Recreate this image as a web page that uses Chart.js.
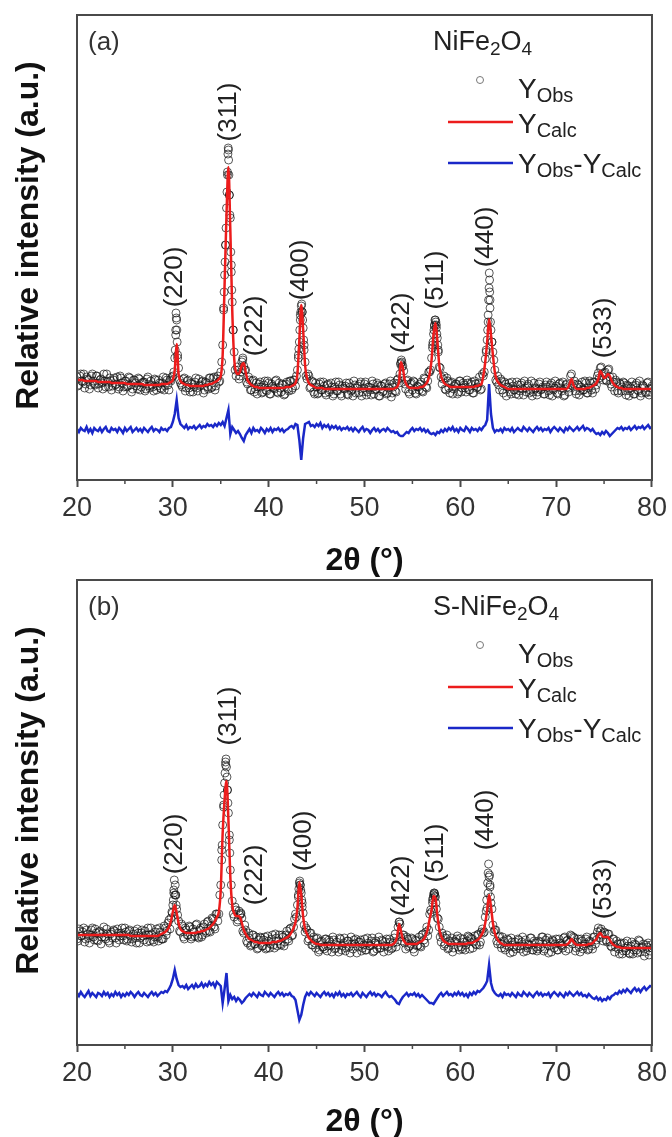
<!DOCTYPE html>
<html lang="en">
<head>
  <meta charset="UTF-8">
  <title>XRD refinement – NiFe2O4 / S-NiFe2O4</title>
  <script src="https://cdn.jsdelivr.net/npm/chart.js@4"></script>
  <style>
    html, body { margin: 0; padding: 0; background: #fff; overflow: hidden; }
    canvas { position: absolute; left: 0; }
    #chart-a { top: 0; }
    #chart-b { top: 565px; }
  </style>
</head>
<body>
  <canvas id="chart-a" width="672" height="590"></canvas>
  <canvas id="chart-b" width="672" height="585"></canvas>

<script>
// 2theta sampling: main readings every 0.2 deg (20.0 ... 80.0) and the
// in-between readings (20.1 ... 79.9) of the observed pattern
const twoTheta = Array.from({ length: 301 }, (_, i) => +(20 + i * 0.2).toFixed(1));
const twoThetaMid = Array.from({ length: 300 }, (_, i) => +(20.1 + i * 0.2).toFixed(1));

// ---- (a) NiFe2O4 ----
const calcA = [
  100,100,100,100,99, 99,99,99,99,99, 99,98,98,98,98, 98,98,98,97,97, 97,97,97,97,97,
  97,96,96,96,96, 96,96,96,96,96, 95,95,95,95,95, 95,95,95,95,96, 96,96,96,97,98,
  100,110,136,106,99, 97,96,95,95,94, 94,94,94,94,94, 94,94,95,95,96, 96,97,98,99,101,
  104,125,195,265,313, 250,170,122,108,106, 108,115,117,108,100, 97,95,94,93,93, 92,92,92,92,92,
  92,92,92,92,92, 92,92,92,92,93, 93,93,94,95,97, 106,140,175,150,115, 102,97,95,94,93,
  92,92,92,92,91, 91,91,91,91,91, 91,91,91,91,91, 91,91,91,91,91, 91,91,91,91,91,
  91,91,91,91,91, 91,91,91,91,91, 91,91,91,91,91, 91,92,93,98,118, 112,100,95,93,92,
  92,92,92,92,93, 93,94,96,99,106, 120,145,157,140,115, 104,99,96,95,94, 93,93,93,93,93,
  93,93,93,93,93, 93,93,93,94,94, 95,96,104,118,138, 161,145,125,108,100, 97,95,94,93,92,
  91,91,91,91,91, 91,91,91,91,91, 91,91,91,91,91, 91,91,91,91,91, 91,91,91,91,91,
  91,91,91,91,91, 91,92,96,101,95, 92,91,91,91,91, 91,92,92,93,94, 95,97,101,109,106,
  102,103,106,104,99, 96,94,93,92,92, 91,91,91,91,91, 91,91,91,91,91, 91,91,91,91,91,
  91
];
const obsA = [
  103,95,106,98,92, 103,100,95,106,96, 104,92,100,97,106, 93,98,102,90,100, 95,103,93,102,89,
  99,93,103,95,91, 100,94,102,90,97, 98,91,103,92,95, 89,100,94,97,91, 103,94,100,90,99,
  104,122,160,112,97, 93,102,92,100,88, 96,93,102,89,94, 98,87,98,93,102, 92,102,90,101,98,
  108,135,205,272,330, 262,178,128,104,110, 104,118,114,110,96, 100,90,100,91,86, 96,93,88,99,89,
  97,86,94,91,100, 87,92,96,85,96, 91,99,90,100,94, 110,138,174,152,118, 101,104,93,98,86,
  93,87,98,90,94, 85,96,90,93,86, 98,89,95,84,92, 94,86,97,89,84, 95,92,87,98,88,
  96,85,93,90,99, 86,91,95,84,94, 89,97,87,96,83, 93,89,100,97,117, 114,96,99,88,96,
  90,98,86,93,96, 89,102,93,99,108, 122,146,160,142,113, 103,101,91,102,92, 97,86,94,96,88,
  99,92,95,88,97, 90,98,87,96,93, 103,91,104,121,140, 192,150,128,110,98, 95,101,90,98,84,
  93,88,98,90,86, 95,89,97,85,92, 94,87,99,88,91, 85,96,90,93,86, 98,89,95,84,92,
  94,86,97,89,84, 95,93,92,106,96, 89,96,85,93,90, 99,87,92,97,87, 98,95,107,112,104,
  107,100,110,103,93, 98,100,89,97,89, 98,89,95,84,92, 94,86,97,89,84, 95,92,87,98,88,
  94
];
const obsMidA = [
  94,104,99,106,96, 101,91,104,99,95, 104,96,101,91,99, 106,93,99,94,102, 96,91,104,97,93,
  99,94,102,88,100, 97,91,101,93,98, 89,101,94,99,93, 101,90,100,92,97, 90,102,95,100,103,
  108,145,125,100,95, 101,89,99,92,97, 88,98,92,101,95, 99,90,97,91,102, 93,103,94,104,99,
  118,170,235,305,285, 215,150,110,113,101, 108,122,110,98,103, 90,99,88,97,93, 98,87,95,90,99,
  86,96,92,99,88, 97,88,95,86,98, 89,99,92,100,104, 125,165,168,135,104, 106,92,99,88,97,
  86,96,90,98,87, 95,88,97,84,93, 89,98,86,94,91, 97,85,93,90,99, 87,94,96,84,92,
  98,88,93,85,96, 90,97,84,94,88, 96,86,92,99,87, 97,88,101,106,118, 109,91,100,86,97,
  99,87,94,90,98, 88,101,92,108,110, 135,154,155,130,112, 96,104,90,99,87, 98,91,96,86,99,
  88,97,92,100,90, 96,87,99,92,97, 90,106,108,130,158, 180,138,120,100,104, 90,99,87,96,93,
  97,86,94,90,98, 85,95,91,99,88, 96,90,84,97,92, 88,98,91,86,95, 93,85,97,90,99,
  87,96,92,98,85, 96,88,104,94,99, 86,95,89,98,90, 97,87,99,90,98, 91,104,102,113,100,
  108,99,111,96,103, 89,98,87,96,93, 97,85,94,89,98, 86,95,90,99,87, 94,88,97,85,92
];
// extra observed readings on the steep peak flanks
const obsExtraAngleA = [30.25,30.3,30.33,30.36,30.42,30.45,30.5,
  35.3,35.35,35.45,35.5,35.55,35.65,35.7,35.75,35.78,35.82,35.85,35.9,35.95,36.05,36.1,36.15,36.3,
  37.3, 43.1,43.15,43.25,43.3,43.35,43.45,43.5,43.55,43.65,43.7, 53.75,53.85,53.9,
  57.1,57.15,57.25,57.3,57.35,57.45,57.5,57.55,57.65,57.7,
  62.7,62.85,62.9,62.95,63.02,63.05,63.07,63.1,63.15,63.3];
const obsExtraA = [130,150,167,162,150,138,122,
  172,188,218,235,252,288,308,326,332,320,305,285,265,228,208,190,150,
  120, 122,131,150,160,168,176,168,160,140,130, 116,120,113,
  132,138,150,155,160,158,152,146,135,128,
  128,150,165,180,207,200,188,172,158,138];
const diffA = [
  51,48,52,50,49, 53,48,51,47,52, 50,49,52,48,51, 53,49,48,52,50, 51,48,52,50,47,
  52,49,51,53,48, 50,52,49,51,48, 52,50,48,51,53, 49,51,50,48,52, 50,51,49,52,53,
  58,66,80,62,56, 54,52,55,51,53, 52,54,51,53,55, 52,54,53,56,54, 55,53,56,54,57,
  55,58,54,62,70, 46,53,50,47,49, 46,42,39,45,48, 51,47,52,49,50, 48,52,50,47,51,
  49,52,48,51,50, 52,49,51,48,50, 51,53,54,52,56, 55,40,20,42,56, 57,58,54,55,53,
  56,54,57,52,55, 53,55,51,54,52, 54,51,53,50,52, 51,53,50,52,49, 52,50,48,51,53,
  49,51,50,47,50, 52,49,51,48,50, 51,49,52,50,48, 49,47,48,45,44, 44,46,48,47,50,
  52,49,51,50,52, 49,51,48,50,47, 46,47,45,48,47, 50,48,51,49,52, 50,53,49,51,48,
  52,50,49,53,51, 48,52,50,51,49, 52,50,53,55,60, 96,66,52,48,50, 49,51,48,52,50,
  51,49,52,48,50, 52,50,49,53,51, 49,52,50,48,51, 53,50,52,49,51, 50,52,48,51,53,
  51,49,52,50,48, 52,50,53,51,49, 51,53,50,52,54, 50,52,51,49,51, 48,46,47,45,48,
  46,49,47,44,46, 48,50,52,51,53, 50,52,51,53,50, 52,54,51,53,52, 54,51,53,55,52,
  53
];

// ---- (b) S-NiFe2O4 ----
const calcB = [
  110,110,110,110,110, 110,110,110,110,110, 110,110,110,110,110, 110,110,110,110,110, 110,110,110,110,110,
  110,110,110,109,109, 109,109,109,109,109, 109,109,109,109,109, 109,109,109,110,111, 112,113,115,118,124,
  133,140,132,122,116, 114,113,112,112,112, 112,112,112,113,113, 114,114,115,116,117, 119,121,124,128,133,
  155,212,245,264,225, 168,140,132,129,129, 128,122,115,111,108, 106,105,104,103,103, 102,102,102,102,102,
  102,102,103,103,103, 104,104,105,106,107, 108,110,113,117,123, 137,163,150,128,116, 111,107,105,103,102,
  101,101,100,100,100, 100,100,100,100,100, 100,100,100,100,100, 100,100,100,100,100, 100,100,100,100,100,
  100,100,100,100,100, 100,100,100,100,100, 100,100,100,100,100, 101,103,108,121,114, 106,103,101,101,101,
  101,101,101,102,103, 104,106,110,116,126, 135,149,147,130,116, 109,105,103,102,101, 101,101,101,101,101,
  101,101,101,101,102, 102,102,103,104,105, 107,110,114,122,135, 150,138,122,112,107, 104,102,101,100,100,
  100,100,100,100,100, 100,100,100,100,100, 100,100,100,100,100, 100,100,100,100,100, 100,100,100,100,100,
  100,100,100,100,100, 100,101,103,106,103, 101,100,100,100,100, 100,100,101,101,102, 104,106,110,112,109,
  108,108,108,105,102, 100,99,98,98,97, 97,97,97,97,97, 97,97,97,97,97, 97,97,97,97,97,
  97
];
const obsB = [
  106,116,109,113,103, 115,107,110,117,105, 112,104,114,108,118, 106,111,102,113,115, 107,116,105,112,109,
  117,104,114,109,106, 114,102,112,107,115, 105,110,117,104,111, 103,113,108,117,106, 106,117,114,125,127,
  140,150,136,124,113, 119,106,115,110,118, 108,113,120,108,115, 108,118,114,123,114, 119,126,116,131,131,
  160,220,262,278,232, 175,144,128,135,125, 130,127,112,115,102, 107,100,110,101,96, 105,107,99,108,97,
  104,101,110,97,107, 104,101,110,99,110, 106,116,109,118,131, 140,162,152,132,113, 115,106,112,100,102,
  106,93,103,98,96, 106,99,103,93,105, 97,100,107,95,102, 94,104,98,108,96, 101,92,103,105,97,
  106,95,102,99,107, 94,104,100,97,105, 93,103,98,106,96, 102,111,103,123,108, 110,102,108,98,101,
  106,93,104,100,99, 110,105,113,109,131, 133,150,148,127,118, 103,109,101,110,97, 102,93,104,106,98,
  107,96,103,100,109, 96,106,103,101,110, 100,113,112,128,137, 168,142,120,115,104, 108,101,108,97,100,
  105,92,103,98,96, 106,99,103,93,105, 97,100,107,95,102, 94,104,98,108,96, 101,92,103,105,97,
  106,95,102,99,107, 94,105,103,109,108, 94,103,98,106,96, 101,108,96,103,96, 108,105,117,114,110,
  113,105,111,103,98, 106,98,101,91,102, 94,97,104,92,99, 91,101,95,105,93, 98,89,100,102,94,
  97
];
const obsMidB = [
  104,114,109,117,106, 111,102,115,108,116, 105,113,101,112,108, 116,104,111,107,114, 102,112,109,117,105,
  113,106,115,103,111, 107,116,102,112,109, 114,103,110,117,105, 108,116,104,113,106, 119,110,122,116,133,
  152,150,130,114,121, 108,117,110,119,106, 116,109,121,107,117, 110,121,112,124,113, 127,118,131,124,150,
  195,240,280,255,205, 160,131,138,123,134, 131,114,120,104,112, 99,110,101,108,97, 108,99,105,96,109,
  97,106,100,111,99, 110,100,108,103,114, 104,117,110,126,128, 150,160,142,120,117, 104,112,100,108,97,
  107,95,104,98,106, 94,105,99,108,96, 103,93,106,99,107, 97,104,92,101,105, 106,98,103,94,100,
  95,107,99,104,93, 102,96,108,97,104, 99,106,94,103,97, 107,98,118,121,104, 110,96,106,99,107,
  96,105,99,108,98, 111,102,118,115,135, 145,152,136,126,108, 112,99,107,96,104, 107,97,103,109,95,
  98,106,95,104,108, 107,97,109,100,111, 103,116,113,134,152, 160,136,113,115,101, 109,97,104,95,106,
  98,107,93,103,99, 105,96,108,99,94, 101,107,95,104,98, 96,103,108,94,105, 107,99,93,104,101,
  95,106,100,97,108, 104,96,110,101,107, 97,106,93,104,99, 106,95,104,99,108, 101,113,107,116,104,
  112,103,111,99,106, 93,104,96,101,91, 102,94,99,91,103, 95,100,92,104,97, 101,93,98,90,100
];
const obsExtraAngleB = [29.95,30.05,30.1,30.15,30.25,30.3,30.35,
  35.1,35.15,35.3,35.35,35.45,35.5,35.55,35.65,35.7,35.75,35.9,35.95,
  37.1, 43.1,43.15,43.25,43.3,43.35,43.45,43.5, 53.65,
  57.1,57.15,57.25,57.3,57.35,57.45,
  62.75,62.85,62.9,62.95,63.05,63.1,63.15];
const obsExtraB = [132,145,155,165,160,150,140,
  185,200,238,250,272,283,286,268,255,242,210,192,
  132, 148,156,164,160,155,145,138, 123,
  142,147,152,151,149,142,
  145,162,172,181,170,158,148];
const diffB = [
  52,49,53,50,48, 51,54,49,52,50, 48,52,51,49,53, 50,52,48,51,49, 53,50,52,48,51,
  49,52,50,53,51, 48,51,53,50,49, 52,50,48,51,53, 50,52,49,51,53, 52,54,53,56,60,
  66,75,66,60,58, 59,57,60,56,58, 60,57,61,58,59, 62,58,61,59,63, 60,62,58,63,61,
  59,42,56,72,44, 50,46,48,44,47, 45,42,44,47,49, 51,49,52,50,48, 52,50,49,53,51,
  49,52,50,48,51, 53,50,52,49,51, 50,52,49,48,45, 35,25,30,40,48, 52,50,53,51,49,
  52,50,48,51,53, 50,52,49,51,48, 52,50,53,49,51, 48,51,50,52,49, 51,53,50,48,52,
  50,48,51,53,50, 52,49,51,50,48, 51,53,50,48,49, 47,45,42,41,45, 48,50,52,49,51,
  50,52,49,51,48, 50,48,46,44,42, 42,41,44,47,50, 52,49,51,53,50, 51,49,52,50,53,
  50,52,49,51,48, 52,50,53,51,54, 53,55,57,60,64, 80,62,55,52,50, 49,51,48,52,50,
  51,49,52,50,48, 52,50,49,53,51, 49,52,50,48,51, 53,50,52,49,51, 50,52,48,51,53,
  51,49,52,50,48, 52,50,53,51,49, 51,53,50,52,49, 50,48,51,49,47, 46,48,45,47,44,
  46,45,48,46,49, 50,52,51,54,52, 55,53,56,54,52, 55,57,54,56,53, 56,58,55,57,59,
  58
];

// reflection labels and where they sit (angle, intensity)
const hklLabels = ['(220)', '(311)', '(222)', '(400)', '(422)', '(511)', '(440)', '(533)'];
const hklAngleA = [30.25, 35.8, 38.6, 43.4, 53.9, 57.4, 62.7, 75.0];
const hklHeightA = [203, 368, 154, 210, 157, 200, 243, 152];
const hklAngleB = [30.25, 35.8, 38.6, 43.7, 53.9, 57.4, 62.7, 75.0];
const hklHeightB = [201, 329, 170, 204, 159, 192, 225, 156];

const FONT = '"Liberation Sans", Arial, sans-serif';
const INK = '#4a4a4a';

function pairs(xs, ys) {
  return ys.map((y, i) => ({ x: xs[i], y }));
}

// text with sub-scripts, drawn left to right
function richText(ctx, x, y, parts) {
  parts.forEach(p => {
    ctx.font = p.size + 'px ' + FONT;
    ctx.fillText(p.t, x, y + (p.dy || 0));
    x += ctx.measureText(p.t).width;
  });
}

const Y = { t: 'Y', size: 28 };
const OBS = { t: 'Obs', size: 20, dy: 4 };
const CALC = { t: 'Calc', size: 20, dy: 4 };

const xrdExtras = {
  id: 'xrdExtras',
  afterDraw(chart, args, o) {
    const { ctx, chartArea: a, scales } = chart;
    ctx.save();

    // box frame
    ctx.strokeStyle = INK;
    ctx.lineWidth = 2;
    ctx.strokeRect(a.left, a.top, a.right - a.left, a.bottom - a.top);

    // minor ticks at 25, 35, ...
    ctx.lineWidth = 1.5;
    for (let v = 25; v < 80; v += 10) {
      const px = scales.x.getPixelForValue(v);
      ctx.beginPath();
      ctx.moveTo(px, a.bottom);
      ctx.lineTo(px, a.bottom + 4);
      ctx.stroke();
    }

    // y title
    ctx.fillStyle = '#111';
    ctx.save();
    ctx.translate(29, (a.top + a.bottom) / 2 - 12);
    ctx.rotate(-Math.PI / 2);
    ctx.textAlign = 'center';
    ctx.textBaseline = 'middle';
    ctx.font = 'bold 32px ' + FONT;
    ctx.fillText('Relative intensity (a.u.)', 0, 0);
    ctx.restore();

    // reflection labels
    ctx.fillStyle = '#222';
    ctx.font = '26px ' + FONT;
    ctx.textAlign = 'center';
    ctx.textBaseline = 'middle';
    hklLabels.forEach((lab, i) => {
      ctx.save();
      ctx.translate(scales.x.getPixelForValue(o.hklAngle[i]), scales.y.getPixelForValue(o.hklHeight[i]));
      ctx.rotate(-Math.PI / 2);
      ctx.fillText(lab, 0, 0);
      ctx.restore();
    });

    // panel letter
    ctx.textAlign = 'left';
    ctx.textBaseline = 'alphabetic';
    ctx.font = '26px ' + FONT;
    ctx.fillStyle = '#333';
    ctx.fillText(o.letter, a.left + 11, a.top + 35);

    // legend block
    const lx = a.left, ty = a.top;
    ctx.fillStyle = '#222';
    richText(ctx, lx + 356, ty + 35, o.sample);

    ctx.strokeStyle = '#777';
    ctx.lineWidth = 1;
    ctx.beginPath();
    ctx.arc(lx + 403, ty + 65, 3.5, 0, Math.PI * 2);
    ctx.stroke();
    richText(ctx, lx + 441, ty + 83, [Y, OBS]);

    ctx.lineWidth = 2.5;
    ctx.strokeStyle = '#ec1c1c';
    ctx.beginPath();
    ctx.moveTo(lx + 371, ty + 107);
    ctx.lineTo(lx + 436, ty + 107);
    ctx.stroke();
    richText(ctx, lx + 441, ty + 118, [Y, CALC]);

    ctx.strokeStyle = '#1a28c8';
    ctx.beginPath();
    ctx.moveTo(lx + 371, ty + 148);
    ctx.lineTo(lx + 436, ty + 148);
    ctx.stroke();
    richText(ctx, lx + 441, ty + 158, [Y, OBS, { t: '-', size: 28 }, Y, CALC]);

    ctx.restore();
  }
};

function xrdChart(id, calc, obs, obsMid, obsExtraAngle, obsExtra, diff, extras) {
  const obsPoints = pairs(twoTheta, obs)
    .concat(pairs(twoThetaMid, obsMid))
    .concat(pairs(obsExtraAngle, obsExtra))
    .sort((p, q) => p.x - q.x);

  return new Chart(document.getElementById(id), {
    type: 'line',
    data: {
      datasets: [
        {
          label: 'YCalc', data: pairs(twoTheta, calc), order: 1,
          borderColor: '#ec1c1c', borderWidth: 2.5, pointRadius: 0,
          cubicInterpolationMode: 'monotone'
        },
        {
          label: 'YObs', data: obsPoints, order: 2, showLine: false,
          pointRadius: 4, pointBorderWidth: 1,
          pointBorderColor: 'rgba(20,20,20,0.7)', pointBackgroundColor: 'rgba(0,0,0,0)'
        },
        {
          label: 'YObs-YCalc', data: pairs(twoTheta, diff), order: 3,
          borderColor: '#1a28c8', borderWidth: 2.5, pointRadius: 0
        }
      ]
    },
    plugins: [xrdExtras],
    options: {
      responsive: false,
      animation: false,
      devicePixelRatio: 1,
      layout: { padding: { left: 77, right: 17, top: 15, bottom: 0 } },
      plugins: {
        legend: { display: false },
        tooltip: { enabled: false },
        xrdExtras: extras
      },
      scales: {
        x: {
          type: 'linear', min: 20, max: 80,
          afterFit: s => { s.height = extras.axisHeight; },
          border: { display: false },
          grid: {
            drawOnChartArea: false, drawTicks: true, tickLength: 7, tickWidth: 2,
            tickColor: c => (c.tick && c.tick.value % 10 === 0) ? INK : 'rgba(0,0,0,0)'
          },
          ticks: {
            stepSize: 5, autoSkip: false, maxRotation: 0, padding: 5,
            color: '#333', font: { family: FONT, size: 27 },
            callback: v => (v % 10 === 0 ? v : '')
          },
          title: {
            display: true, text: '2θ (°)', color: '#111',
            font: { family: FONT, size: 32, weight: 'bold' },
            padding: { top: 0, bottom: extras.titlePad }
          }
        },
        y: { display: false, min: 0, max: 465 }
      }
    }
  });
}

xrdChart('chart-a', calcA, obsA, obsMidA, obsExtraAngleA, obsExtraA, diffA, {
  letter: '(a)',
  sample: [{ t: 'NiFe', size: 27 }, { t: '2', size: 19, dy: 5 }, { t: 'O', size: 27 }, { t: '4', size: 19, dy: 5 }],
  hklAngle: hklAngleA, hklHeight: hklHeightA,
  axisHeight: 110, titlePad: 10
});

xrdChart('chart-b', calcB, obsB, obsMidB, obsExtraAngleB, obsExtraB, diffB, {
  letter: '(b)',
  sample: [{ t: 'S-NiFe', size: 27 }, { t: '2', size: 19, dy: 5 }, { t: 'O', size: 27 }, { t: '4', size: 19, dy: 5 }],
  hklAngle: hklAngleB, hklHeight: hklHeightB,
  axisHeight: 105, titlePad: 9
});
</script>
</body>
</html>
